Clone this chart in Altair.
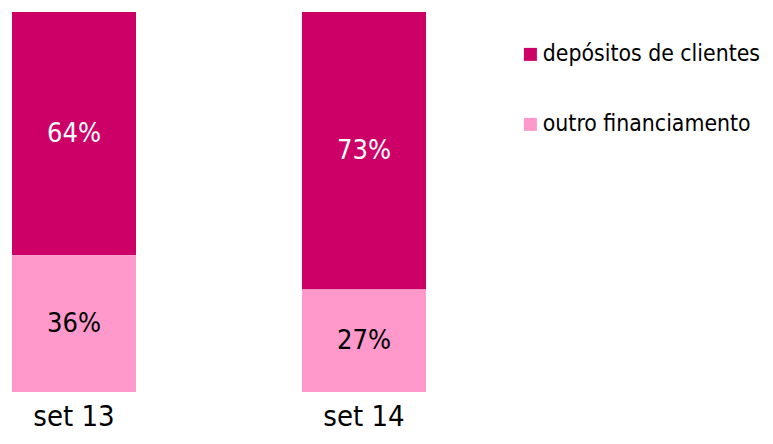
import altair as alt
import pandas as pd

periods = ["set 13", "set 13", "set 14", "set 14"]
series = ["depósitos de clientes", "outro financiamento",
          "depósitos de clientes", "outro financiamento"]
values = [64, 36, 73, 27]
stack_order = [1, 0, 1, 0]

series_domain = ["depósitos de clientes", "outro financiamento"]
series_colors = ["#CC0066", "#FF99CC"]

df = pd.DataFrame({"period": periods, "series": series, "value": values, "ord": stack_order})

FONT = "DejaVu Sans Condensed"

base = alt.Chart(df).transform_stack(
    stack="value", groupby=["period"], as_=["v0", "v1"], sort=[{"field": "ord", "order": "ascending"}]
).transform_calculate(
    mid="(datum.v0 + datum.v1) / 2",
    lbl="datum.value + '%'"
)

xenc = alt.X("period:N", title=None,
             scale=alt.Scale(paddingInner=0.5724, paddingOuter=0),
             axis=alt.Axis(domain=False, ticks=False, labelAngle=0, labelFontSize=29,
                           labelFont=FONT, labelColor="black", labelPadding=10))

bars = base.mark_bar().encode(
    x=xenc,
    y=alt.Y("v0:Q", scale=alt.Scale(domain=[0, 100]), axis=None),
    y2="v1:Q",
    color=alt.Color("series:N", title=None,
                    scale=alt.Scale(domain=series_domain, range=series_colors),
                    legend=alt.Legend(orient="none", legendX=507, legendY=31,
                                      symbolType="square", symbolSize=169, symbolStrokeWidth=0,
                                      labelFontSize=22.8, labelFont=FONT, labelColor="black",
                                      labelOffset=1, rowPadding=46, labelLimit=400, padding=0)),
)

text = base.mark_text(fontSize=27, font=FONT, baseline="middle").encode(
    x="period:N",
    y=alt.Y("mid:Q"),
    text="lbl:N",
    color=alt.condition(alt.datum.series == "depósitos de clientes", alt.value("white"), alt.value("black")),
)

chart = alt.layer(bars, text).properties(
    width=414, height=380,
    padding={"left": 4, "top": 4, "right": 339, "bottom": 44},
    autosize=alt.AutoSizeParams(type="none"),
).configure_view(stroke=None)

chart.save("out.html", embed_options={"renderer": "svg", "actions": False})
